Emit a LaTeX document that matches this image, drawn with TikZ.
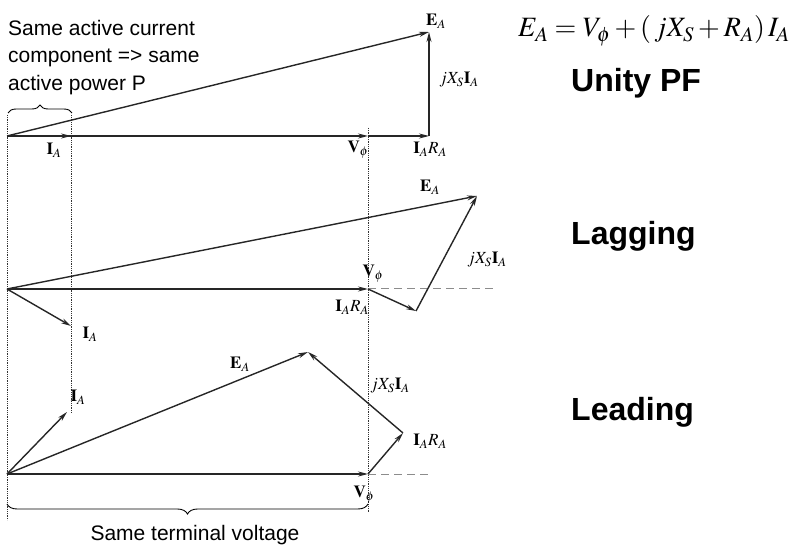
\documentclass[tikz,border=0pt]{standalone}
\usepackage{mathptmx}
\usepackage[no-math]{fontspec}
\setmainfont{Liberation Serif}
\setsansfont{Liberation Sans}
\usetikzlibrary{arrows.meta,decorations.pathreplacing}

\begin{document}
\begin{tikzpicture}[
				x=1pt, y=-1pt,
				phasor/.style={
					-{Stealth[length=10pt,width=5pt]},
					line width=1.4pt,
					black!85
				},
				guide/.style={densely dotted, line width=0.8pt, black!80},
				extension/.style={dashed, dash pattern=on 8pt off 5pt, line width=1pt, black!45},
				brace/.style={decorate, decoration={brace,amplitude=8pt}, line width=0.9pt},
				vlabel/.style={font=\fontsize{17}{17}\selectfont, inner sep=1pt},
				note/.style={font=\sffamily\fontsize{21}{27.5}\selectfont, inner sep=0pt, align=left},
				casename/.style={font=\sffamily\bfseries\fontsize{32}{32}\selectfont, inner sep=0pt, anchor=base west}
				]
				\useasboundingbox (0,0) rectangle (796,548);
				
				% unity power factor
				\coordinate (o1) at (7,136);
				\coordinate (ia1) at (71,136);
				\coordinate (v1) at (368,136);
				\coordinate (r1) at (429,136);
				\coordinate (e1) at (429,32);
				% lagging
				\coordinate (o2) at (7,289);
				\coordinate (ia2) at (71,326);
				\coordinate (v2) at (368,289);
				\coordinate (r2) at (416,311);
				\coordinate (e2) at (477,196);
				\coordinate (d2) at (493,289);
				% leading
				\coordinate (o3) at (7,474);
				\coordinate (ia3) at (67,412);
				\coordinate (v3) at (368,474);
				\coordinate (r3) at (403,433);
				\coordinate (e3) at (308,352);
				\coordinate (d3) at (428,474);
				% guide lines and braces
				\coordinate (g1top) at (7,115);
				\coordinate (g1bot) at (7,520);
				\coordinate (g2top) at (71,115);
				\coordinate (g2bot) at (71,413);
				\coordinate (g3top) at (368,128);
				\coordinate (g3bot) at (368,512);
				\coordinate (b1l) at (8,113);
				\coordinate (b1r) at (72,113);
				\coordinate (b2l) at (7,504);
				\coordinate (b2r) at (368,504);
				
				\draw[guide] (g1top) -- (g1bot);
				\draw[guide] (g2top) -- (g2bot);
				\draw[guide] (g3top) -- (g3bot);
				\draw[brace] (b1l) -- (b1r);
				\draw[brace,decoration={amplitude=10pt}] (b2r) -- (b2l);
				
				\draw[phasor] (o1) -- (ia1);
				\draw[phasor] (o1) -- (v1);
				\draw[phasor] (v1) -- (r1);
				\draw[phasor] (r1) -- (e1);
				\draw[phasor] (o1) -- (e1);
				
				\draw[extension] (v2) -- (d2);
				\draw[phasor] (o2) -- (ia2);
				\draw[phasor] (o2) -- (v2);
				\draw[phasor] (v2) -- (r2);
				\draw[phasor] (r2) -- (e2);
				\draw[phasor] (o2) -- (e2);
				
				\draw[extension] (v3) -- (d3);
				\draw[phasor] (o3) -- (ia3);
				\draw[phasor] (o3) -- (v3);
				\draw[phasor] (v3) -- (r3);
				\draw[phasor] (r3) -- (e3);
				\draw[phasor] (o3) -- (e3);
				
				\node[vlabel] (ea1) at (436,21) {$\mathbf{E}_A$};
				\node[vlabel] (jx1) at (459,80) {$jX_S\mathbf{I}_A$};
				\node[vlabel] (iar1) at (430,149) {$\mathbf{I}_A R_A$};
				\node[vlabel] (vp1) at (358,150) {$\mathbf{V}_\phi$};
				\node[vlabel] (ia1l) at (54,150) {$\mathbf{I}_A$};
				
				\node[vlabel] (ea2) at (430,187) {$\mathbf{E}_A$};
				\node[vlabel] (jx2) at (487,260) {$jX_S\mathbf{I}_A$};
				\node[vlabel] (iar2) at (352,307) {$\mathbf{I}_A R_A$};
				\node[vlabel] (vp2) at (373,274) {$\mathbf{V}_\phi$};
				\node[vlabel] (ia2l) at (90,334) {$\mathbf{I}_A$};
				
				\node[vlabel] (ea3) at (240,364) {$\mathbf{E}_A$};
				\node[vlabel] (jx3) at (390,386) {$jX_S\mathbf{I}_A$};
				\node[vlabel] (iar3) at (430,441) {$\mathbf{I}_A R_A$};
				\node[vlabel] (vp3) at (364,495) {$\mathbf{V}_\phi$};
				\node[vlabel] (ia3l) at (78,397) {$\mathbf{I}_A$};
				
				\node[note, anchor=north west] (active) at (8,20) {Same active current\\component => same\\active power P};
				\node[note, anchor=base] (terminal) at (195,540) {Same terminal voltage};
				
				\node[inner sep=0pt, anchor=base east, font=\fontsize{28}{28}\selectfont] (eq) at (790,37)
				{$E_A = V_\phi + \mathopen{(}\,jX_S + R_A\mathclose{)}\, I_A$};
				\node[casename] (unity) at (571,92) {Unity PF};
				\node[casename] (lagging) at (571,245) {Lagging};
				\node[casename] (leading) at (571,420) {Leading};
			\end{tikzpicture}
\end{document}
